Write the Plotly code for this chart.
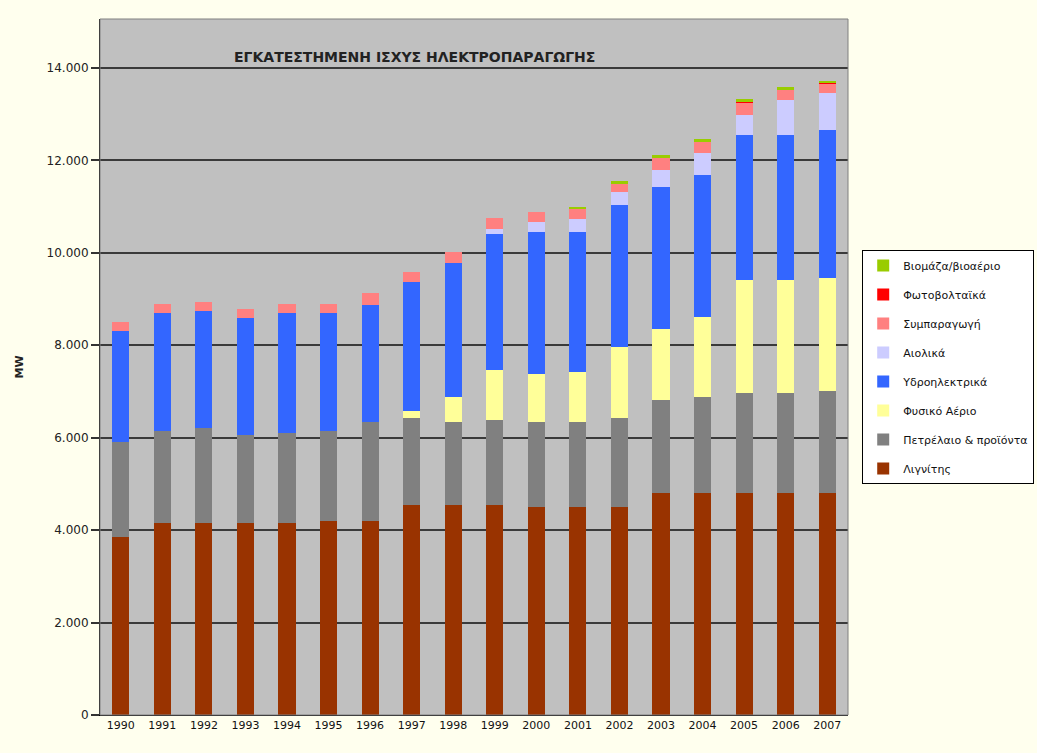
import plotly.graph_objects as go

years = [str(y) for y in range(1990, 2008)]

lignite = [3860, 4160, 4160, 4150, 4155, 4200, 4200, 4545, 4545, 4545, 4510, 4510, 4510, 4800, 4800, 4800, 4800, 4800]
oil = [2056, 1995, 2045, 1910, 1942, 1947, 2149, 1877, 1805, 1840, 1840, 1840, 1912, 2018, 2090, 2163, 2163, 2220]
gas = [0, 0, 0, 0, 0, 0, 0, 160, 540, 1082, 1031, 1081, 1550, 1530, 1718, 2452, 2452, 2446]
hydro = [2402, 2539, 2547, 2526, 2597, 2547, 2525, 2778, 2887, 2933, 3080, 3030, 3067, 3087, 3080, 3139, 3139, 3182]
wind = [0, 0, 0, 0, 0, 0, 0, 0, 0, 120, 216, 268, 288, 365, 469, 433, 758, 808]
chp = [181, 202, 187, 202, 195, 202, 253, 230, 231, 230, 217, 217, 166, 270, 231, 267, 216, 216]
pv = [0, 0, 0, 0, 0, 0, 0, 0, 0, 0, 0, 0, 0, 0, 0, 1, 5, 9]
bio = [0, 0, 0, 0, 0, 0, 0, 0, 0, 0, 0, 56, 72, 40, 73, 72, 58, 20]

series_names = ["Λιγνίτης", "Πετρέλαιο & προϊόντα", "Φυσικό Αέριο", "Υδροηλεκτρικά",
                "Αιολικά", "Συμπαραγωγή", "Φωτοβολταϊκά", "Βιομάζα/βιοαέριο"]
series_values = [lignite, oil, gas, hydro, wind, chp, pv, bio]
series_colors = ["#993300", "#808080", "#FFFF99", "#3366FF", "#CCCCFF", "#FF8080", "#FF0000", "#99CC00"]

tick_vals = [0, 2000, 4000, 6000, 8000, 10000, 12000, 14000]
tick_text = ["0", "2.000", "4.000", "6.000", "8.000", "10.000", "12.000", "14.000"]

title_text = "ΕΓΚΑΤΕΣΤΗΜΕΝΗ ΙΣΧΥΣ ΗΛΕΚΤΡΟΠΑΡΑΓΩΓΗΣ"

fig = go.Figure()
for i, (name, vals, col) in enumerate(zip(series_names, series_values, series_colors)):
    fig.add_trace(go.Bar(x=years, y=vals, name=name, marker=dict(color=col, line=dict(width=0)),
                         legendgroup="g%d" % i, legendrank=100 - i))

fig.update_layout(
    width=1037, height=753,
    barmode="stack", bargap=0.59,
    paper_bgcolor="#FFFFEE", plot_bgcolor="#C0C0C0",
    margin=dict(l=100, r=189, t=19, b=38, autoexpand=False),
    font=dict(family="DejaVu Sans, sans-serif", size=10, color="#222"),
    showlegend=True,
    legend=dict(x=1.019, y=0.668, xanchor="left", yanchor="top",
                traceorder="grouped", tracegroupgap=10,
                bgcolor="#FFFFFF", bordercolor="#000000", borderwidth=1,
                font=dict(family="DejaVu Sans, sans-serif", size=11, color="#111"), itemwidth=30),
    xaxis=dict(type="category", showgrid=False, showline=True, linecolor="#000", linewidth=1,
               ticks="", tickfont=dict(size=11, color="#111"), ticklen=0),
    yaxis=dict(range=[0, 15060], tickvals=tick_vals, ticktext=tick_text,
               showgrid=True, gridcolor="#3A3A3A", gridwidth=2,
               showline=True, linecolor="#000", linewidth=1,
               ticks="outside", ticklen=8, tickcolor="#333", tickwidth=2,
               tickfont=dict(size=12, color="#222"), zeroline=False,
               title=dict(text="<b>MW</b>", font=dict(size=11, color="#222"), standoff=20)),
    annotations=[dict(text="<b>" + title_text + "</b>", xref="paper", yref="paper",
                      x=0.42, y=0.945, xanchor="center", yanchor="middle", showarrow=False,
                      font=dict(family="DejaVu Sans, sans-serif", size=14, color="#222"))],
    shapes=[dict(type="rect", xref="paper", yref="paper", x0=0, y0=0, x1=1, y1=1,
                 line=dict(color="#808080", width=1), layer="above")],
)

fig.write_html("out.html")
